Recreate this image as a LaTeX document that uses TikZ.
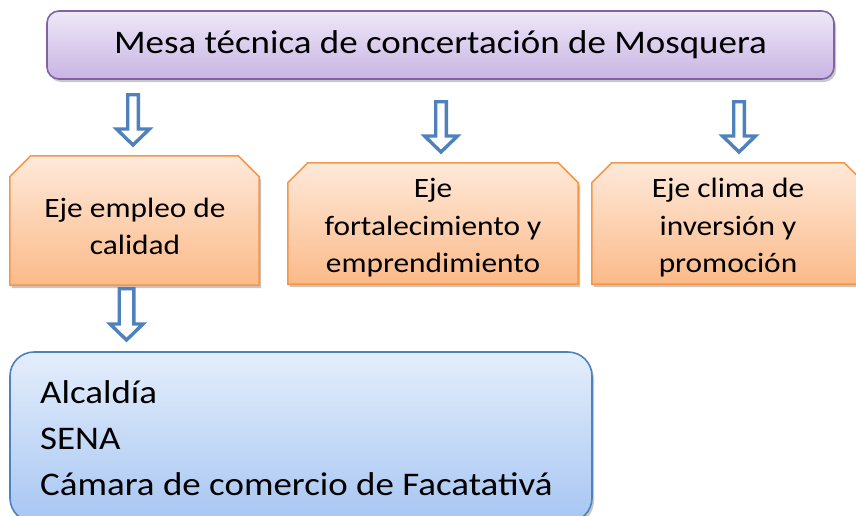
\documentclass[tikz,border=0pt]{standalone}
\usepackage{fontspec}
\setmainfont{Carlito}[FakeStretch=1.12]
\usetikzlibrary{calc,shadows}
\definecolor{purpTop}{HTML}{EEE8F7}
\definecolor{purpBot}{HTML}{C9B4E4}
\definecolor{purpLine}{HTML}{8064A2}
\definecolor{orTop}{HTML}{FEE9DA}
\definecolor{orBot}{HTML}{FBBA88}
\definecolor{orLine}{HTML}{F79646}
\definecolor{blTop}{HTML}{E4EEFB}
\definecolor{blBot}{HTML}{A7C6F3}
\definecolor{blLine}{HTML}{4F81BD}
\tikzset{
  softshadow/.style={drop shadow={shadow xshift=2pt,shadow yshift=-3pt,opacity=0.3,fill=black!70}},
  topbox/.style={draw=purpLine,line width=1.6pt,rounded corners=12pt,top color=purpTop,bottom color=purpBot,
    minimum width=787pt,minimum height=68pt,inner sep=0pt,font=\fontsize{33}{38}\selectfont,softshadow},
  geom/.style={draw=none,inner sep=0pt},
  obox/.style={draw=orLine,line width=1.6pt,top color=orTop,bottom color=orBot,softshadow},
  otext/.style={align=center,inner sep=0pt,font=\fontsize{28}{37.5}\selectfont},
  bluebox/.style={draw=blLine,line width=1.6pt,rounded corners=24pt,top color=blTop,bottom color=blBot,
    minimum width=582pt,minimum height=170pt,inner sep=0pt,softshadow},
  btext/.style={align=left,inner sep=0pt,font=\fontsize{33}{46}\selectfont},
  harrow/.style={draw=blLine,line width=3.4pt,fill=white,line join=miter}
}
\newcommand\snipbox[2]{%
  \path[obox] ($(#1.south west)$) -- ($(#1.north west)+(0,#2)$) -- ($(#1.north west)+(#2,0)$)
    -- ($(#1.north east)+(-#2,0)$) -- ($(#1.north east)+(0,#2)$) -- (#1.south east) -- cycle;}
\newcommand\hollowarrow[3]{%
  \draw[harrow] ($(#1)+(-#3,0)$) -- ($(#1)+(#3,0)$) -- ($(#2)+(#3,-16)$) -- ($(#2)+(16.5,-16)$)
    -- (#2) -- ($(#2)+(-16.5,-16)$) -- ($(#2)+(-#3,-16)$) -- cycle;}
\begin{document}
\begin{tikzpicture}[x=1pt,y=-1pt]
\useasboundingbox (0,0) rectangle (856,515);
\fill[white] (0,0) rectangle (856,515);

\node[topbox] (mesa) at (440.5,45) {Mesa técnica de concertación de Mosquera};

% orange boxes
\node[geom,minimum width=249pt,minimum height=129pt] (e1) at (134.5,220.5) {};
\node[geom,minimum width=290pt,minimum height=121pt] (e2) at (433,223.5) {};
\node[geom,minimum width=272pt,minimum height=121pt] (e3) at (728,223.5) {};
\snipbox{e1}{21}
\snipbox{e2}{20}
\snipbox{e3}{20}
\node[otext] (e1t) at (135,226.5) {Eje empleo de\\calidad};
\node[otext] (e2t) at (433,228) {Eje\\fortalecimiento y\\emprendimiento};
\node[otext] (e3t) at (728,228) {Eje clima de\\inversión y\\promoción};

% blue box
\node[bluebox] (actores) at (301,437) {};
\node[btext,anchor=west] (actt) at (40,438) {Alcaldía\\SENA\\Cámara de comercio de Facatativá};

% arrows
\coordinate (a1s) at (133,94.7);  \coordinate (a1e) at (133,145);
\coordinate (a2s) at (441,101.7); \coordinate (a2e) at (441,152);
\coordinate (a3s) at (739,101.7); \coordinate (a3e) at (739,152);
\coordinate (a4s) at (126.5,288.7); \coordinate (a4e) at (126.5,340);
\hollowarrow{a1s}{a1e}{5.3}
\hollowarrow{a2s}{a2e}{5.3}
\hollowarrow{a3s}{a3e}{5.3}
\hollowarrow{a4s}{a4e}{7.3}
\end{tikzpicture}
\end{document}
